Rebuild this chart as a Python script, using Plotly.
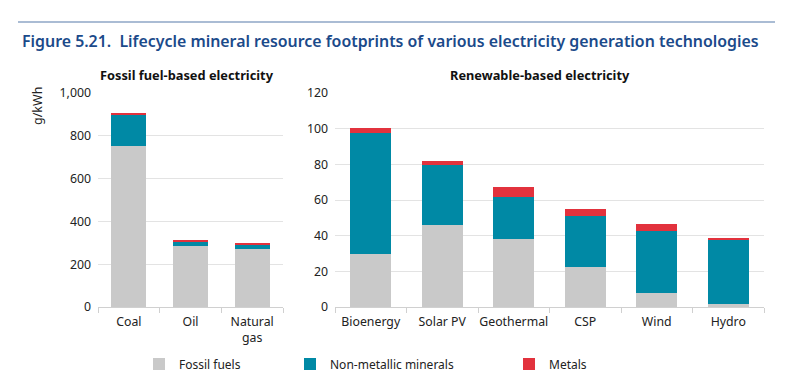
import plotly.graph_objects as go

fossil_cats = ["Coal", "Oil", "Natural<br>gas"]
fossil_fossil = [753, 284, 269]
fossil_nonmetal = [145, 24, 23]
fossil_metals = [6, 6, 6]

renew_cats = ["Bioenergy", "Solar PV", "Geothermal", "CSP", "Wind", "Hydro"]
renew_fossil = [29.5, 46, 38, 22.5, 8, 1.5]
renew_nonmetal = [68, 33.5, 23.5, 28.7, 34.8, 36.6]
renew_metals = [2.6, 2.6, 6, 3.9, 3.7, 0.6]

series_names = ["Fossil fuels", "Non-metallic minerals", "Metals"]
colors = ["#c9c9c9", "#0089a5", "#e2323d"]

FONT = "Noto Sans"
OFF = 8  # page body margin of the browser
W, H = 800 - 2 * OFF, 381 - 2 * OFF
T = 93 - OFF
B = H - (307 - OFF)
PH = H - T - B

def px_x(px):
    return (px - OFF) / W

def py(px):
    return 1 + (T - (px - OFF)) / PH

fig = go.Figure()
left = [fossil_fossil, fossil_nonmetal, fossil_metals]
right = [renew_fossil, renew_nonmetal, renew_metals]
legend_ids = ["legend", "legend2", "legend3"]
for i, name in enumerate(series_names):
    fig.add_trace(go.Bar(x=fossil_cats, y=left[i], name=name, marker_color=colors[i],
                         marker_line_width=0, xaxis="x", yaxis="y",
                         legend=legend_ids[i], showlegend=True))
    fig.add_trace(go.Bar(x=renew_cats, y=right[i], name=name, marker_color=colors[i],
                         marker_line_width=0, xaxis="x2", yaxis="y2",
                         legend=legend_ids[i], showlegend=False))

axis_common = dict(showline=True, linecolor="#d0d0d0", linewidth=1, automargin=False,
                   ticks="outside", tickson="boundaries", ticklen=5, tickcolor="#d0d0d0",
                   tickangle=0, ticklabelstandoff=3,
                   tickfont=dict(family=FONT, size=12.3, color="#222"), fixedrange=True)
yaxis_common = dict(showgrid=True, gridcolor="#e3e3e3", gridwidth=1, showline=False,
                    zeroline=False, ticks="", automargin=False,
                    tickfont=dict(family=FONT, size=12.3, color="#222"),
                    ticklabelstandoff=6)

fig.update_layout(
    width=W, height=H,
    margin=dict(l=0, r=0, t=T, b=B, autoexpand=False),
    paper_bgcolor="white", plot_bgcolor="white",
    barmode="stack", bargap=0.43,
    xaxis=dict(domain=[px_x(98), px_x(283)], anchor="y", **axis_common),
    yaxis=dict(domain=[0, 1], anchor="x", range=[0, 1000], dtick=200, tickformat=",", **yaxis_common),
    xaxis2=dict(domain=[px_x(335), px_x(764)], anchor="y2", **axis_common),
    yaxis2=dict(domain=[0, 1], anchor="x2", range=[0, 120], dtick=20, **yaxis_common),
    font=dict(family=FONT, color="#222"),
)

leg_common = dict(orientation="h", xanchor="left", yanchor="middle",
                  font=dict(family=FONT, size=12, color="#222"), bgcolor="rgba(0,0,0,0)",
                  itemwidth=30, maxheight=60)
fig.update_layout(
    legend=dict(x=px_x(139), y=py(364), **leg_common),
    legend2=dict(x=px_x(290), y=py(364), **leg_common),
    legend3=dict(x=px_x(509), y=py(364), **leg_common),
)

fig.add_shape(type="line", xref="paper", yref="paper", x0=px_x(18), x1=px_x(775),
              y0=py(22), y1=py(22), line=dict(color="#8ea6c6", width=1.5))

annotations = [
    dict(text="Figure 5.21.  Lifecycle mineral resource footprints of various electricity generation technologies",
         x=px_x(20), y=py(41), xref="paper", yref="paper", xanchor="left", yanchor="middle",
         showarrow=False, font=dict(family=FONT, size=15.9, color="#1b4a8a", weight=600)),
    dict(text="<b>Fossil fuel-based electricity</b>", x=px_x(187), y=py(75), xref="paper", yref="paper",
         xanchor="center", yanchor="middle", showarrow=False, font=dict(family=FONT, size=12.8, color="#111")),
    dict(text="<b>Renewable-based electricity</b>", x=px_x(540), y=py(75), xref="paper", yref="paper",
         xanchor="center", yanchor="middle", showarrow=False, font=dict(family=FONT, size=12.8, color="#111")),
    dict(text="g/kWh", x=px_x(38), y=py(106), xref="paper", yref="paper", textangle=-90,
         xanchor="center", yanchor="middle", showarrow=False, font=dict(family=FONT, size=12.5, color="#222")),
]
fig.update_layout(annotations=annotations)

fig.write_html("out.html")
